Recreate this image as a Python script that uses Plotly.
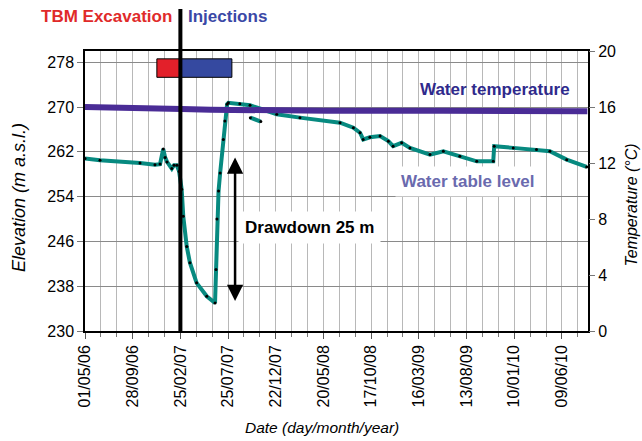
import plotly.graph_objects as go

# ---------------- data ----------------
level_dates = [
    "2006-05-01", "2006-06-17", "2006-10-21", "2006-12-07", "2006-12-23",
    "2007-01-02", "2007-01-08", "2007-01-14", "2007-01-29", "2007-02-05",
    "2007-02-14", "2007-02-21", "2007-03-01", "2007-03-06", "2007-03-17",
    "2007-03-27", "2007-04-17", "2007-05-19", "2007-06-14", "2007-06-17",
    "2007-06-20", "2007-06-25", "2007-06-30", "2007-07-10", "2007-07-15",
    "2007-07-22", "2007-07-26", "2007-08-31", "2007-10-02", "2007-11-09",
    "2007-12-25", "2008-03-07", "2008-07-11", "2008-08-22", "2008-09-12",
    "2008-09-22", "2008-10-13", "2008-11-14", "2008-12-10", "2008-12-25",
    "2009-01-21", "2009-02-16", "2009-04-20", "2009-06-01", "2009-07-23",
    "2009-09-14", "2009-11-05", "2009-11-08", "2010-01-07", "2010-03-21",
    "2010-05-02", "2010-06-24", "2010-08-26",
]
level_values = [
    260.8, 260.5, 260.0, 259.7, 259.8,
    262.5, 261.0, 260.2, 259.0, 259.6,
    259.6, 258.5, 255.3, 250.5, 245.1,
    242.2, 238.6, 236.2, 235.0, 241.0,
    250.0, 255.0, 258.2, 264.2, 267.5,
    270.5, 270.75, 270.6, 270.3, 269.6,
    268.7, 268.1, 267.2, 266.3, 265.4,
    264.2, 264.6, 264.8, 263.9, 263.0,
    263.6, 262.7, 261.5, 262.1, 261.2,
    260.3, 260.3, 263.0, 262.7, 262.4,
    262.1, 260.6, 259.3,
]
# short offset segment recorded in autumn 2007
dip_dates = ["2007-10-03", "2007-11-05"]
dip_values = [268.1, 267.4]

temp_dates = ["2006-05-01", "2006-12-01", "2007-01-20", "2007-03-01", "2007-06-01",
              "2007-10-01", "2008-06-01", "2009-06-01", "2010-03-01", "2010-08-28"]
temp_values = [16.0, 15.95, 15.92, 15.85, 15.8, 15.76, 15.74, 15.73, 15.72, 15.7]

phases = ["TBM Excavation", "Injections"]
phase_start = ["2006-12-13", "2007-02-25"]
phase_end = ["2007-02-25", "2007-08-06"]
phase_colors = ["#e3202a", "#3549a0"]
phase_band = [275.3, 278.6]

event_date = "2007-02-25"
drawdown_date = "2007-08-16"
drawdown_top = 261.0
drawdown_bottom = 235.1

x_range = ["2006-05-01", "2010-08-30"]
elev_range = [230, 280]
temp_range = [0, 20]

DAY = 86400000
FONT = "Liberation Sans, Arial, sans-serif"
TEAL = "#078a80"
PURPLE = "#4a2c96"

fig = go.Figure()

fig.add_trace(go.Scatter(
    x=temp_dates, y=temp_values, yaxis="y2", mode="lines",
    line=dict(color=PURPLE, width=6), showlegend=False, hoverinfo="skip"))

fig.add_trace(go.Scatter(
    x=level_dates, y=level_values, mode="lines+markers",
    line=dict(color=TEAL, width=4),
    marker=dict(color="black", size=3), showlegend=False))
fig.add_trace(go.Scatter(
    x=dip_dates, y=dip_values, mode="lines+markers",
    line=dict(color=TEAL, width=4),
    marker=dict(color="black", size=3), showlegend=False))

shapes = []
for s, e, c in zip(phase_start, phase_end, phase_colors):
    shapes.append(dict(type="rect", xref="x", yref="y", x0=s, x1=e,
                       y0=phase_band[0], y1=phase_band[1],
                       fillcolor=c, line=dict(color="black", width=1), layer="above"))
shapes.append(dict(type="line", xref="x", yref="paper", x0=event_date, x1=event_date,
                   y0=0, y1=1.15, line=dict(color="black", width=4), layer="above"))


def ann(x, y, text, size=17, color="black", **kw):
    d = dict(x=x, y=y, xref="paper", yref="paper", text=text, showarrow=False,
             xanchor="center", yanchor="middle",
             font=dict(family=FONT, size=size, color=color))
    d.update(kw)
    return d


annotations = [
    ann(0.042, 1.125, "<b>TBM Excavation</b>", color="#e02a2a"),
    ann(0.283, 1.125, "<b>Injections</b>", color="#3a48a6"),
    ann(0.815, 0.861, "<b>Water temperature</b>", color="#2f2a8c"),
    ann(0.761, 0.534, "<b>Water table level</b>", color="#6a6aae",
        bgcolor="white", borderpad=5),
    ann(0.447, 0.368, "<b>Drawdown 25 m</b>", bgcolor="white", borderpad=6),
    dict(x=drawdown_date, y=drawdown_top, ax=drawdown_date, ay=drawdown_bottom,
         xref="x", yref="y", axref="x", ayref="y", text="", showarrow=True,
         arrowhead=2, arrowside="end+start", arrowsize=1.3, arrowwidth=2.5,
         arrowcolor="black"),
    ann(-0.131, 0.475, "<i>Elevation (m a.s.l.)</i>", size=18, textangle=-90),
    ann(1.0875, 0.448, "<i>Temperature (°C)</i>", size=16, textangle=-90),
    ann(0.471, -0.345, "<i>Date (day/month/year)</i>", size=15.5),
]

fig.update_layout(
    width=642, height=441, autosize=False,
    margin=dict(l=85, r=54, t=51, b=110),
    paper_bgcolor="white", plot_bgcolor="white",
    font=dict(family=FONT, size=16, color="black"),
    showlegend=False,
    shapes=shapes, annotations=annotations,
    xaxis=dict(
        type="date", range=x_range, tick0="2006-05-01", dtick=150 * DAY,
        tickformat="%d/%m/%y", tickangle=-90, ticks="outside", ticklen=6,
        tickcolor="#555", showgrid=True, gridcolor="#b8b8b8", gridwidth=1,
        showline=True, linecolor="black", linewidth=1.5, mirror=True,
        minor=dict(tick0="2006-05-01", dtick=50 * DAY, ticks="outside", ticklen=4,
                   tickcolor="#777", showgrid=True, gridcolor="#b8b8b8", gridwidth=1),
        tickfont=dict(size=16), zeroline=False,
    ),
    yaxis=dict(
        range=elev_range, tick0=230, dtick=8, ticks="outside", ticklen=6,
        tickcolor="#777", showgrid=True, gridcolor="#8a8a8a", gridwidth=1,
        showline=True, linecolor="black", linewidth=1.5, mirror=True,
        zeroline=False, tickfont=dict(size=16),
    ),
    yaxis2=dict(
        range=temp_range, tick0=0, dtick=4, overlaying="y", side="right",
        ticks="outside", ticklen=6, tickcolor="#777", showgrid=False,
        showline=False, zeroline=False, tickfont=dict(size=16),
    ),
)

fig.write_html("out.html", config={"displayModeBar": False},
               post_script="document.body.style.margin='0';document.body.style.overflow='hidden';")
